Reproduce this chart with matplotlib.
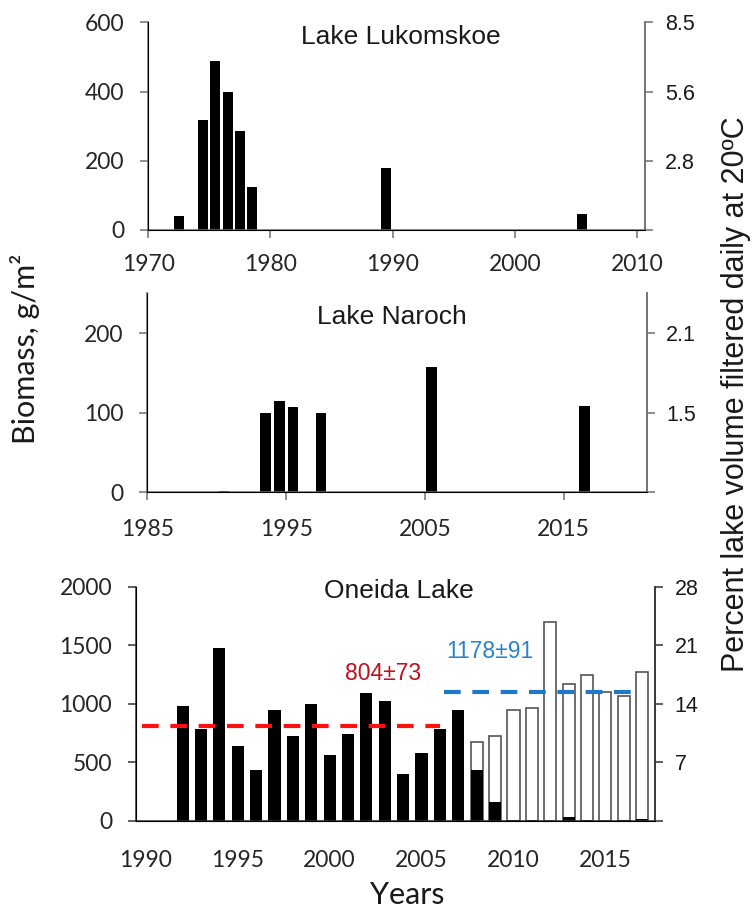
import matplotlib.pyplot as plt
import numpy as np

# Lake Lukomskoe biomass, g/m2
luk_years = [1972, 1974, 1975, 1976, 1977, 1978, 1989, 2005]
luk_biomass = [40, 317, 487, 398, 287, 124, 178, 45]
luk_right_ticks = [0, 200, 400, 600]
luk_right_labels = ['', '2.8', '5.6', '8.5']

# Lake Naroch
nar_years = [1990, 1993, 1994, 1995, 1997, 2005, 2016]
nar_biomass = [2, 99, 114, 107, 99, 157, 108]
nar_right_ticks = [0, 100, 200]
nar_right_labels = ['', '1.5', '2.1']

# Oneida Lake
one_years = list(range(1992, 2018))
one_black = [977, 780, 1477, 634, 429, 949, 723, 1000, 557, 737, 1094, 1020, 397,
             577, 780, 949, 434, 157, 5, 5, 0, 29, 5, 0, 3, 17]
one_white_years = list(range(2008, 2018))
one_white = [669, 723, 946, 963, 1700, 1166, 1249, 1103, 1066, 1274]
one_right_ticks = [0, 500, 1000, 1500, 2000]
one_right_labels = ['', '7', '14', '21', '28']

early_mean, early_span, early_label = 810, (1989.8, 2006.0), '804\u00b173'
late_mean, late_span, late_label = 1100, (2006.2, 2016.7), '1178\u00b191'

ARIAL = 'Liberation Sans'
CALIBRI = 'Lato'

fig = plt.figure(figsize=(7.54, 9.17), dpi=100)


def style(ax, spine_col, xpad, xlen):
    ax.spines['top'].set_visible(False)
    for s in ['left', 'bottom', 'right']:
        ax.spines[s].set_color(spine_col)
        ax.spines[s].set_linewidth(1.1)
    ax.tick_params(axis='y', direction='out', length=6, width=1.1, color=spine_col,
                   pad=11, labelsize=16.5, labelcolor='#262626')
    ax.tick_params(axis='x', direction='out', length=xlen, width=1.1, color=spine_col,
                   pad=xpad, labelsize=16.5, labelcolor='#262626')
    for lab in ax.get_xticklabels() + ax.get_yticklabels():
        lab.set_family(CALIBRI)


def right_axis(ax, ticks, labels, spine_col):
    ax2 = ax.twinx()
    ax2.set_ylim(ax.get_ylim())
    ax2.set_yticks(ticks)
    ax2.set_yticklabels(labels, family=ARIAL)
    ax2.spines['top'].set_visible(False)
    ax2.spines['right'].set_color(spine_col)
    ax2.spines['right'].set_linewidth(1.1)
    ax2.tick_params(axis='y', direction='out', length=6, width=1.1, color=spine_col,
                    pad=8, labelsize=15.5, labelcolor='#1a1a1a')
    return ax2


# panel 1
ax1 = fig.add_axes([0.1966, 0.7492, 0.6594, 0.2265])
ax1.bar(np.array(luk_years) + 0.5, luk_biomass, width=0.82, color='black')
ax1.set_xlim(1970, 2010.7)
ax1.set_ylim(0, 600)
ax1.set_xticks([1970, 1980, 1990, 2000, 2010])
ax1.set_yticks([0, 200, 400, 600])
style(ax1, '#707070', 11, 6)
right_axis(ax1, luk_right_ticks, luk_right_labels, '#707070')
fig.text(400.9 / 754, 1 - 36.7 / 917, 'Lake Lukomskoe', family=ARIAL, fontsize=19,
         ha='center', va='center', color='#1a1a1a')

# panel 2
ax2 = fig.add_axes([0.1956, 0.4633, 0.6622, 0.2169])
ax2.bar(np.array(nar_years) + 0.5, nar_biomass, width=0.77, color='black')
ax2.set_xlim(1985, 2021)
ax2.set_ylim(0, 250)
ax2.set_xticks([1985, 1995, 2005, 2015])
ax2.set_yticks([0, 100, 200])
style(ax2, '#707070', 13, 6)
right_axis(ax2, nar_right_ticks, nar_right_labels, '#707070')
fig.text(391.4 / 754, 1 - 316.7 / 917, 'Lake Naroch', family=ARIAL, fontsize=19,
         ha='center', va='center', color='#1a1a1a')

# panel 3
ax3 = fig.add_axes([0.18, 0.1052, 0.6887, 0.2547])
ax3.bar(one_white_years, one_white, width=0.66, color='white', edgecolor='#555555',
        linewidth=1.2)
ax3.bar(one_years, one_black, width=0.66, color='black')
ax3.plot(early_span, [early_mean] * 2, color='#ff1010', lw=3,
         linestyle=(0, (4, 2.8)), solid_capstyle='butt')
ax3.plot(late_span, [late_mean] * 2, color='#1f78c8', lw=3,
         linestyle=(0, (4, 2.8)), solid_capstyle='butt')
ax3.text(2002.9, 1256, early_label, color='#c0101a', family=ARIAL, fontsize=16.5,
         ha='center', va='center')
ax3.text(2008.7, 1450, late_label, color='#2a82cc', family=ARIAL, fontsize=16.5,
         ha='center', va='center')
ax3.set_xlim(1989.45, 2017.7)
ax3.set_ylim(0, 2000)
ax3.set_xticks([1990, 1995, 2000, 2005, 2010, 2015])
ax3.set_yticks([0, 500, 1000, 1500, 2000])
style(ax3, '#333333', 21, 0)
right_axis(ax3, one_right_ticks, one_right_labels, '#333333')
fig.text(398.8 / 754, 1 - 591 / 917, 'Oneida Lake', family=ARIAL, fontsize=19,
         ha='center', va='center', color='#1a1a1a')

fig.text(25 / 754, 1 - 349 / 917, 'Biomass, g/m\u00b2', family=CALIBRI, fontsize=22,
         rotation=90, ha='center', va='center', color='#1a1a1a')
fig.text(736 / 754, 1 - 394 / 917, 'Percent lake volume filtered daily at 20\u00baC',
         family=ARIAL, fontsize=22, rotation=90, ha='center', va='center',
         color='#1a1a1a')
fig.text(407 / 754, 1 - 895 / 917, 'Years', family=CALIBRI, fontsize=22,
         ha='center', va='center', color='#1a1a1a')

fig.savefig('out.png', dpi=100)
